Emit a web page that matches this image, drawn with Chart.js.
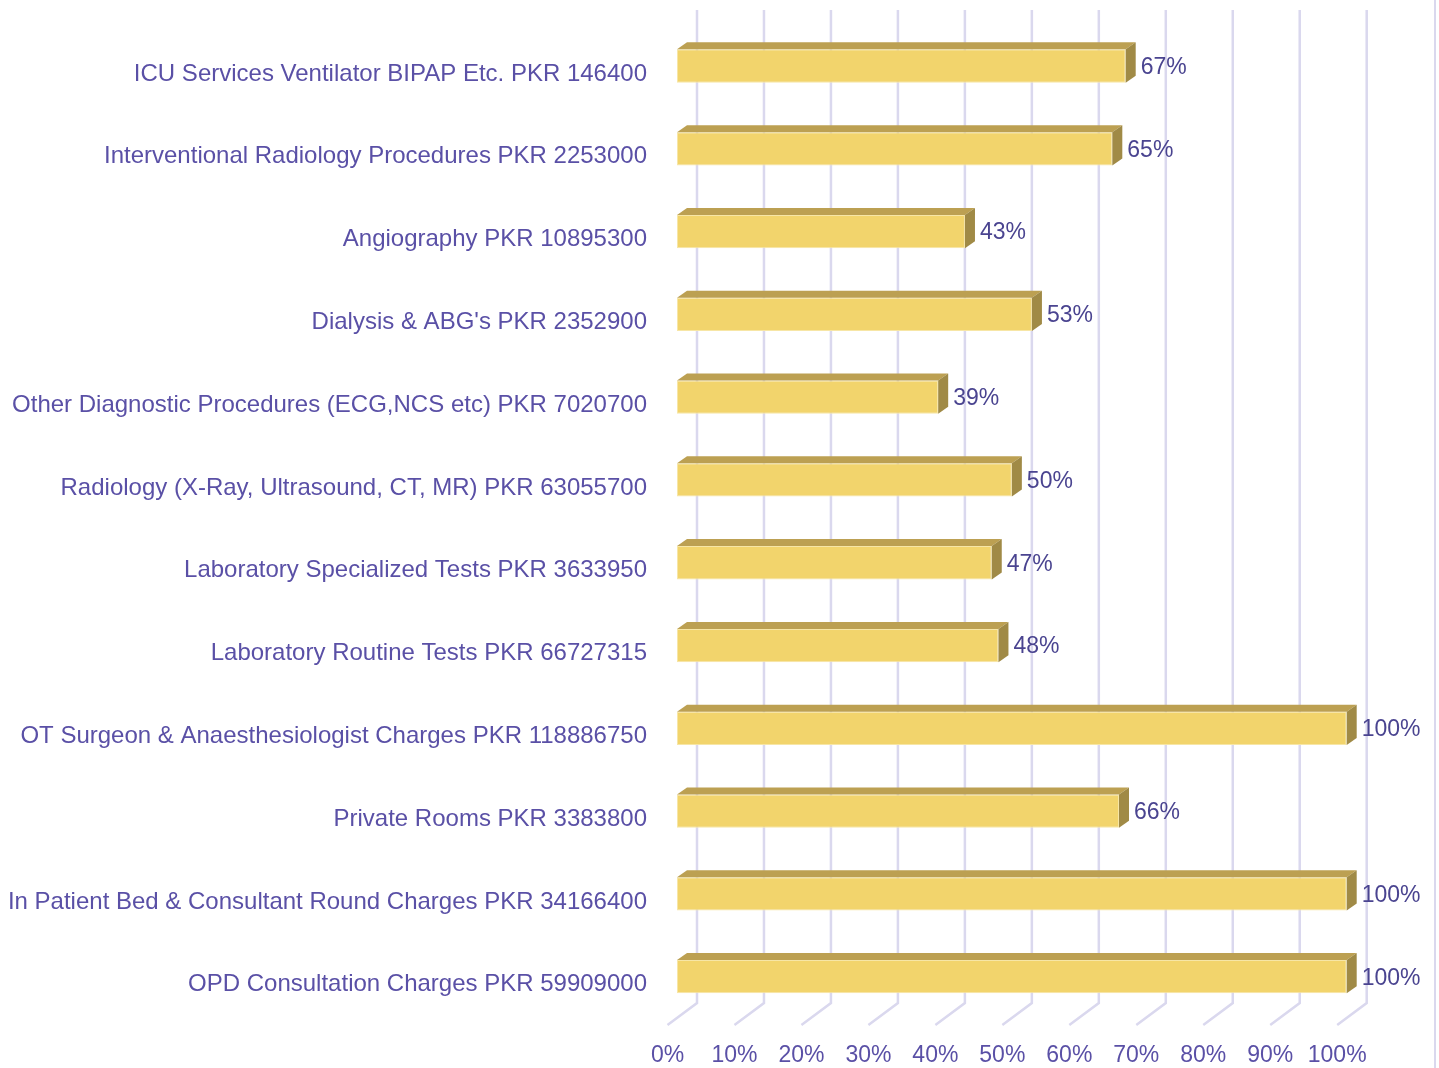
<!DOCTYPE html>
<html>
<head>
<meta charset="utf-8">
<script src="https://cdn.jsdelivr.net/npm/chart.js@4/dist/chart.umd.min.js"></script>
<style>
  html, body { margin: 0; padding: 0; background: #fff; }
  #wrap { width: 1439px; height: 1068px; position: relative; }
</style>
</head>
<body>
<div id="wrap"><canvas id="chart"></canvas></div>
<script>
// categories, top to bottom
const categories = [
    'ICU Services Ventilator BIPAP Etc. PKR 146400',
    'Interventional Radiology Procedures PKR 2253000',
    'Angiography PKR 10895300',
    "Dialysis & ABG's PKR 2352900",
    'Other Diagnostic Procedures (ECG,NCS etc) PKR 7020700',
    'Radiology (X-Ray, Ultrasound, CT, MR) PKR 63055700',
    'Laboratory Specialized Tests PKR 3633950',
    'Laboratory Routine Tests PKR 66727315',
    'OT Surgeon & Anaesthesiologist Charges PKR 118886750',
    'Private Rooms PKR 3383800',
    'In Patient Bed & Consultant Round Charges PKR 34166400',
    'OPD Consultation Charges PKR 59909000'
];
const percentages = [67, 65, 43, 53, 39, 50, 47, 48, 100, 66, 100, 100];
const tickValues = [0, 10, 20, 30, 40, 50, 60, 70, 80, 90, 100];

const labelColor = '#5a50a6';
const valueColor = '#4a4490';
const gridColor = '#dad8ee';

// 3d depth of bars and of the wall/floor
const barDepth = { dx: 10, dy: -7 };
const wallDx = 20, floorDx = -9.5;
const wallTop = 10, wallBottom = 1003, floorFront = 1025;

const wallPlugin = {
    id: 'wall',
    beforeDatasetsDraw(chart) {
        const ctx = chart.ctx;
        const xs = chart.scales.x;
        ctx.save();
        ctx.strokeStyle = gridColor;
        ctx.lineWidth = 2.5;
        tickValues.forEach(v => {
            const px = xs.getPixelForValue(v);
            ctx.beginPath();
            ctx.moveTo(px + wallDx, wallTop);
            ctx.lineTo(px + wallDx, wallBottom);
            ctx.lineTo(px + floorDx, floorFront);
            ctx.stroke();
        });
        // right border line
        ctx.lineWidth = 2;
        ctx.beginPath();
        ctx.moveTo(1435, 0);
        ctx.lineTo(1435, 1068);
        ctx.stroke();
        ctx.restore();
    },
    afterDatasetsDraw(chart) {
        const ctx = chart.ctx;
        const meta = chart.getDatasetMeta(0);
        ctx.save();
        meta.data.forEach((bar, i) => {
            const p = bar.getProps(['x', 'y', 'base', 'height'], true);
            const x0 = p.base, x1 = p.x;
            const top = p.y - p.height / 2, bottom = p.y + p.height / 2;
            const dx = barDepth.dx, dy = barDepth.dy;
            // top face
            ctx.fillStyle = '#bca052';
            ctx.beginPath();
            ctx.moveTo(x0, top);
            ctx.lineTo(x0 + dx, top + dy);
            ctx.lineTo(x1 + dx, top + dy);
            ctx.lineTo(x1, top);
            ctx.closePath();
            ctx.fill();
            // side face
            ctx.fillStyle = '#a08a46';
            ctx.beginPath();
            ctx.moveTo(x1, top);
            ctx.lineTo(x1 + dx, top + dy);
            ctx.lineTo(x1 + dx, bottom + dy);
            ctx.lineTo(x1, bottom);
            ctx.closePath();
            ctx.fill();
            // value label
            ctx.fillStyle = valueColor;
            ctx.font = '23px "Liberation Sans", Arial, sans-serif';
            ctx.textAlign = 'left';
            ctx.textBaseline = 'middle';
            ctx.fillText(percentages[i] + '%', x1 + dx + 5, p.y + 1.5);
        });
        ctx.restore();
    }
};

const data = {
    labels: categories,
    datasets: [{
        label: 'Percentage',
        data: percentages,
        backgroundColor: '#f2d46c',
        borderColor: '#f7e6a6',
        borderWidth: 1,
        borderSkipped: false,
        barPercentage: 0.402,
        categoryPercentage: 1
    }]
};

const config = {
    type: 'bar',
    data,
    options: {
        indexAxis: 'y',
        responsive: true,
        maintainAspectRatio: false,
        animation: false,
        layout: {
            padding: { left: 0, right: 92.3, top: 24.6, bottom: 0 }
        },
        scales: {
            x: {
                min: 0,
                max: 100,
                border: { display: false },
                grid: { display: false, drawTicks: false },
                afterFit(scale) {
                    scale.height = 49.9;
                    scale.paddingLeft = 0;
                    scale.paddingRight = 0;
                },
                afterBuildTicks(scale) {
                    scale.ticks = tickValues.map(v => ({ value: v }));
                },
                ticks: {
                    autoSkip: false,
                    maxRotation: 0,
                    padding: 24,
                    labelOffset: -9.5,
                    color: labelColor,
                    font: { family: '"Liberation Sans", Arial, sans-serif', size: 23 },
                    callback: v => v + '%'
                }
            },
            y: {
                border: { display: false },
                grid: { display: false, drawTicks: false },
                afterFit(scale) {
                    scale.width = 677;
                    scale.paddingTop = 0;
                    scale.paddingBottom = 0;
                },
                ticks: {
                    autoSkip: false,
                    padding: 30,
                    labelOffset: 8,
                    color: labelColor,
                    font: { family: '"Liberation Sans", Arial, sans-serif', size: 24 }
                }
            }
        },
        plugins: {
            legend: { display: false },
            tooltip: { enabled: false }
        }
    },
    plugins: [wallPlugin]
};

new Chart(document.getElementById('chart'), config);
</script>
</body>
</html>
